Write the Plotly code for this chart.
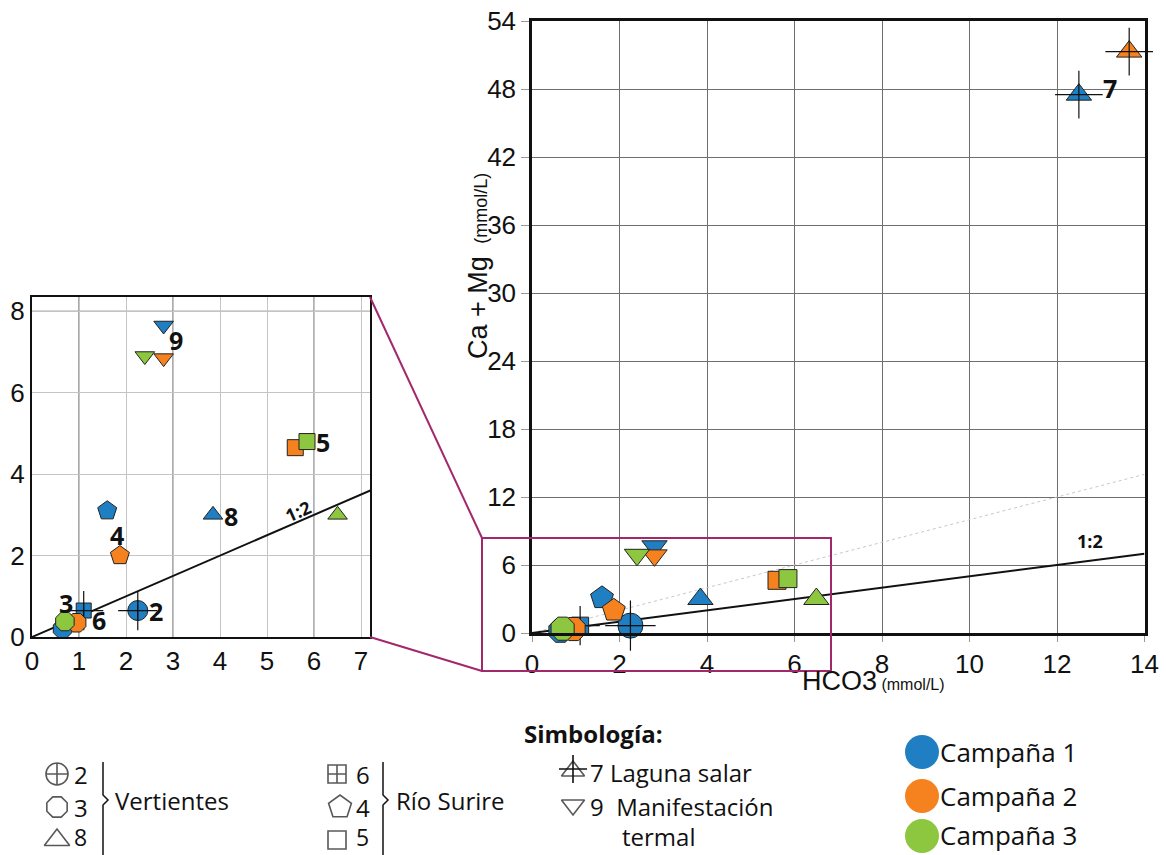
import plotly.graph_objects as go

# ---------------- data ----------------
campaigns = ["Campaña 1", "Campaña 2", "Campaña 3"]
colors = ["#1f7fc2", "#f5821f", "#8dc63f"]

c1_site = ["3", "6", "2", "4", "8", "9", "7"]
c1_hco3 = [0.65, 1.1, 2.25, 1.6, 3.85, 2.8, 12.5]
c1_camg = [0.2, 0.65, 0.65, 3.1, 3.0, 7.65, 47.5]

c2_site = ["3", "4", "5", "9", "7"]
c2_hco3 = [0.95, 1.87, 5.6, 2.8, 13.65]
c2_camg = [0.35, 2.0, 4.65, 6.85, 51.3]

c3_site = ["3", "5", "8", "9"]
c3_hco3 = [0.7, 5.85, 6.5, 2.4]
c3_camg = [0.38, 4.8, 3.0, 6.9]

series = [(c1_site, c1_hco3, c1_camg), (c2_site, c2_hco3, c2_camg), (c3_site, c3_hco3, c3_camg)]

main_xticks = [0, 2, 4, 6, 8, 10, 12, 14]
main_yticks = [0, 6, 12, 18, 24, 30, 36, 42, 48, 54]
inset_xticks = [0, 1, 2, 3, 4, 5, 6, 7]
inset_yticks = [0, 2, 4, 6, 8]

inset_labels = ["9", "5", "8", "4", "3", "6", "2"]
inset_label_x = [3.06, 6.2, 4.23, 1.81, 0.72, 1.43, 2.64]
inset_label_y = [7.29, 4.8, 2.97, 2.5, 0.83, 0.42, 0.64]

# ---------------- styles ----------------
symbol = {"2": "circle-cross", "3": "octagon", "6": "square-cross", "4": "pentagon",
          "5": "square", "7": "triangle-up", "8": "triangle-up", "9": "triangle-down"}
size_main = {"2": 25, "3": 25, "6": 17, "4": 24, "5": 18, "7": 22, "8": 22, "9": 22}
size_inset = {"2": 20, "3": 20, "6": 15, "4": 20, "5": 16, "7": 16, "8": 17, "9": 17}
crossed = {"2": (36, 28), "6": (28, 28), "7": (34, 26)}

W, H = 1166, 855
FONT_AX = "Liberation Sans, Arial, sans-serif"
FONT_TX = "Open Sans, Noto Sans, sans-serif"

fig = go.Figure()

def add_points(xa, ya, sizes, ci):
    sites, xs, ys = series[ci]
    fig.add_trace(go.Scatter(
        x=xs, y=ys, mode="markers", xaxis=xa, yaxis=ya, showlegend=False,
        cliponaxis=False, name=campaigns[ci],
        marker=dict(symbol=[symbol[s] for s in sites], size=[sizes[s] for s in sites],
                    color=colors[ci], opacity=1, line=dict(color="#222", width=1))))
    cx = [x for s, x in zip(sites, xs) if s in crossed]
    cy = [y for s, y in zip(sites, ys) if s in crossed]
    cs = [crossed[s][0 if xa == "x" else 1] for s in sites if s in crossed]
    if cx:
        fig.add_trace(go.Scatter(
            x=cx, y=cy, mode="markers", xaxis=xa, yaxis=ya, showlegend=False,
            cliponaxis=False,
            marker=dict(symbol="cross-thin", size=cs, color="#111", opacity=1,
                        line=dict(color="#111", width=1.2))))

# reference lines (main)
fig.add_trace(go.Scatter(x=[0, 14], y=[0, 14], mode="lines", xaxis="x", yaxis="y",
                         line=dict(color="#c8c8c8", width=1, dash="dot"), showlegend=False))
fig.add_trace(go.Scatter(x=[0, 14], y=[0, 7], mode="lines", xaxis="x", yaxis="y",
                         line=dict(color="#111", width=2), showlegend=False))
# reference line (inset)
fig.add_trace(go.Scatter(x=[0, 7.2], y=[0, 3.6], mode="lines", xaxis="x2", yaxis="y2",
                         line=dict(color="#111", width=2), showlegend=False))

for ci in range(3):
    add_points("x", "y", size_main, ci)
    add_points("x2", "y2", size_inset, ci)

# ---------------- axes ----------------
main_dom_x = [532 / W, 1144.5 / W]
main_dom_y = [1 - 633 / H, 1 - 21 / H]
inset_dom_x = [32 / W, 370 / W]
inset_dom_y = [1 - 637 / H, 1 - 297 / H]

axis_common = dict(showline=True, linecolor="#111", mirror=True, zeroline=False,
                   automargin=False,
                   tickfont=dict(family=FONT_AX, size=26, color="#111"))

fig.update_layout(
    width=W, height=H, margin=dict(l=0, r=0, t=0, b=0, autoexpand=False),
    paper_bgcolor="white", plot_bgcolor="rgba(0,0,0,0)", showlegend=False,
    xaxis=dict(domain=main_dom_x, range=[0, 14], tickvals=main_xticks, linewidth=2.5,
               gridcolor="#6e6e6e", gridwidth=1, ticks="outside", ticklen=6,
               tickcolor="#999", **axis_common),
    yaxis=dict(domain=main_dom_y, range=[0, 54], tickvals=main_yticks, linewidth=2.5,
               gridcolor="#6e6e6e", gridwidth=1, ticks="outside", ticklen=8,
               tickcolor="#999", **axis_common),
    xaxis2=dict(domain=inset_dom_x, range=[0, 7.19], tickvals=inset_xticks, linewidth=2,
                gridcolor="#c4c4c4", gridwidth=1, anchor="y2", ticks="", **axis_common),
    yaxis2=dict(domain=inset_dom_y, range=[0, 8.35], tickvals=inset_yticks, linewidth=2,
                gridcolor="#c4c4c4", gridwidth=1, anchor="x2", ticks="", **axis_common),
    xaxis3=dict(domain=[0, 1], range=[0, W], visible=False, anchor="y3", fixedrange=True,
                automargin=False),
    yaxis3=dict(domain=[0, 1], range=[H, 0], visible=False, anchor="x3", fixedrange=True,
                automargin=False),
)

shapes = []
# darker inset gridlines
for xv in [1, 3, 6]:
    shapes.append(dict(type="line", xref="x2", yref="y2", x0=xv, x1=xv, y0=0, y1=8.35,
                       line=dict(color="#555", width=1), layer="below"))
shapes.append(dict(type="line", xref="x2", yref="y2", x0=0, x1=7.19, y0=8, y1=8,
                   line=dict(color="#555", width=1), layer="below"))

# zoom rectangle + connectors (purple)
PURPLE = "#a3286b"
shapes.append(dict(type="rect", xref="x3", yref="y3", x0=482, x1=831, y0=538, y1=671,
                   line=dict(color=PURPLE, width=2)))
shapes.append(dict(type="line", xref="x3", yref="y3", x0=370, y0=297, x1=482, y1=538,
                   line=dict(color=PURPLE, width=2)))
shapes.append(dict(type="line", xref="x3", yref="y3", x0=370, y0=637, x1=482, y1=671,
                   line=dict(color=PURPLE, width=2)))

# legend brackets
for bx in [103, 383]:
    shapes.append(dict(type="path", xref="x3", yref="y3",
                       path=f"M {bx},762 L {bx},795 L {bx+5},800 L {bx},805 L {bx},855",
                       line=dict(color="#111", width=1.5)))
fig.update_layout(shapes=shapes)

ann = []
# inset labels
for t, x, y in zip(inset_labels, inset_label_x, inset_label_y):
    ann.append(dict(x=x, y=y, xref="x2", yref="y2", text=f"<b>{t}</b>", showarrow=False,
                    font=dict(family=FONT_TX, size=25, color="#111")))
ann.append(dict(x=5.66, y=3.1, xref="x2", yref="y2", text="<b>1:2</b>", showarrow=False,
                textangle=-24, font=dict(family=FONT_TX, size=18, color="#111")))
# main labels
ann.append(dict(x=13.2, y=48.1, xref="x", yref="y", text="<b>7</b>", showarrow=False,
                font=dict(family=FONT_TX, size=25, color="#111")))
ann.append(dict(x=12.75, y=8.1, xref="x", yref="y", text="<b>1:2</b>", showarrow=False,
                font=dict(family=FONT_TX, size=18, color="#111")))

# axis titles
ann.append(dict(x=873, y=681, xref="x3", yref="y3", showarrow=False,
                text="HCO3<span style='font-size:16px'> (mmol/L)</span>",
                font=dict(family=FONT_AX, size=27, color="#111")))
ann.append(dict(x=478, y=266, xref="x3", yref="y3", showarrow=False, textangle=-90,
                text="Ca + Mg <span style='font-size:18px'> (mmol/L)</span>",
                font=dict(family=FONT_AX, size=27, color="#111")))

# ---------------- custom legend ----------------
leg_sym = ["circle-cross-open", "octagon-open", "triangle-up-open",
           "square-cross-open", "pentagon-open", "square-open",
           "triangle-up-open", "triangle-down-open"]
leg_x = [57, 57, 57, 337, 340, 337, 573, 573]
leg_y = [774, 807, 840, 774, 807, 840, 771, 805]
leg_size = [22, 22, 22, 18, 24, 18, 20, 20]
fig.add_trace(go.Scatter(x=leg_x, y=leg_y, xaxis="x3", yaxis="y3", mode="markers",
                         cliponaxis=False, showlegend=False, hoverinfo="skip",
                         marker=dict(symbol=leg_sym, size=leg_size, color="#111",
                                     line=dict(color="#111", width=1.6))))
fig.add_trace(go.Scatter(x=[573], y=[769], xaxis="x3", yaxis="y3", mode="markers",
                         cliponaxis=False, showlegend=False, hoverinfo="skip",
                         marker=dict(symbol="cross-thin", size=20, color="#111",
                                     line=dict(color="#111", width=1.6))))
# campaign circles
fig.add_trace(go.Scatter(x=[922, 922, 922], y=[752, 796, 836], xaxis="x3", yaxis="y3",
                         mode="markers", cliponaxis=False, showlegend=False,
                         marker=dict(symbol="circle", size=34, color=colors, line=dict(width=0))))

def txt(x, y, t, size=24, bold=False, anchor="left"):
    ann.append(dict(x=x, y=y, xref="x3", yref="y3", showarrow=False, xanchor=anchor,
                    text=f"<b>{t}</b>" if bold else t,
                    font=dict(family=FONT_TX, size=size, color="#111")))

txt(72, 774, "2"); txt(72, 807, "3"); txt(72, 837, "8", size=23)
txt(113, 800, "Vertientes")
txt(354, 774, "6"); txt(354, 807, "4"); txt(354, 837, "5", size=23)
txt(394, 800, "Río Surire")
txt(522, 733, "Simbología:", size=24, bold=True)
txt(588, 772, "7 Laguna salar")
txt(588, 806, "9  Manifestación")
txt(620, 836, "termal")
for yy, c in zip([752, 796, 835], campaigns):
    txt(938, yy, c, size=26)

fig.update_layout(annotations=ann)
fig.write_html("out.html", config={"displayModeBar": False},
               post_script="document.body.style.margin='0';document.body.style.padding='0';"
                           "document.body.style.overflow='hidden';")
